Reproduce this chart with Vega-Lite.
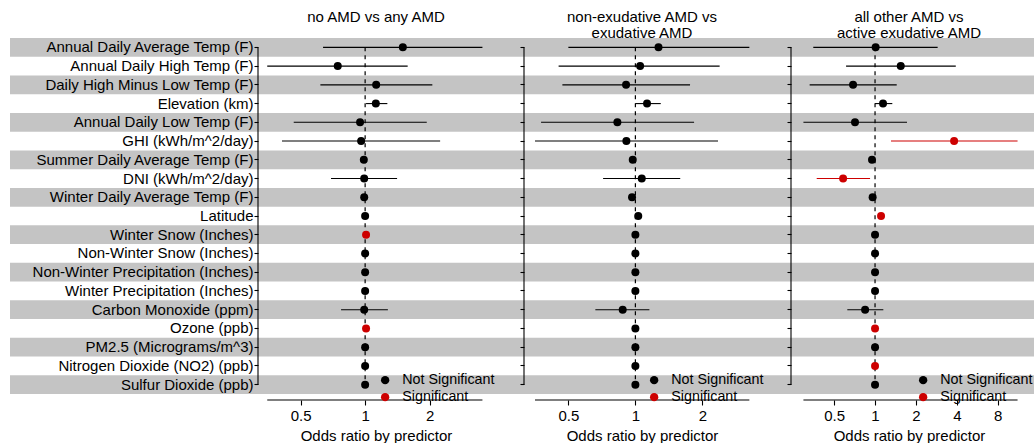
{
  "$schema": "https://vega.github.io/schema/vega-lite/v6.json",
  "padding": {"left": 10, "top": 10, "right": 0, "bottom": 0},
  "bounds": "flush",
  "spacing": 0,
  "datasets": {
    "or": [
      {"panel": "A", "predictor": "Annual Daily Average Temp (F)", "est": 1.50, "lo": 0.636, "hi": 3.53, "sig": "Not Significant"},
      {"panel": "A", "predictor": "Annual Daily High Temp (F)", "est": 0.745, "lo": 0.349, "hi": 1.58, "sig": "Not Significant"},
      {"panel": "A", "predictor": "Daily High Minus Low Temp (F)", "est": 1.126, "lo": 0.618, "hi": 2.06, "sig": "Not Significant"},
      {"panel": "A", "predictor": "Elevation (km)", "est": 1.122, "lo": 1.01, "hi": 1.27, "sig": "Not Significant"},
      {"panel": "A", "predictor": "Annual Daily Low Temp (F)", "est": 0.947, "lo": 0.464, "hi": 1.94, "sig": "Not Significant"},
      {"panel": "A", "predictor": "GHI (kWh/m^2/day)", "est": 0.958, "lo": 0.409, "hi": 2.24, "sig": "Not Significant"},
      {"panel": "A", "predictor": "Summer Daily Average Temp (F)", "est": 0.986, "lo": 0.965, "hi": 1.005, "sig": "Not Significant"},
      {"panel": "A", "predictor": "DNI (kWh/m^2/day)", "est": 0.99, "lo": 0.693, "hi": 1.41, "sig": "Not Significant"},
      {"panel": "A", "predictor": "Winter Daily Average Temp (F)", "est": 0.99, "lo": 0.975, "hi": 1.005, "sig": "Not Significant"},
      {"panel": "A", "predictor": "Latitude", "est": 1.0, "lo": 0.99, "hi": 1.01, "sig": "Not Significant"},
      {"panel": "A", "predictor": "Winter Snow (Inches)", "est": 1.01, "lo": 1.003, "hi": 1.017, "sig": "Significant"},
      {"panel": "A", "predictor": "Non-Winter Snow (Inches)", "est": 1.0, "lo": 0.995, "hi": 1.005, "sig": "Not Significant"},
      {"panel": "A", "predictor": "Non-Winter Precipitation (Inches)", "est": 1.0, "lo": 0.995, "hi": 1.005, "sig": "Not Significant"},
      {"panel": "A", "predictor": "Winter Precipitation (Inches)", "est": 1.0, "lo": 0.995, "hi": 1.005, "sig": "Not Significant"},
      {"panel": "A", "predictor": "Carbon Monoxide (ppm)", "est": 0.99, "lo": 0.772, "hi": 1.277, "sig": "Not Significant"},
      {"panel": "A", "predictor": "Ozone (ppb)", "est": 1.01, "lo": 1.004, "hi": 1.016, "sig": "Significant"},
      {"panel": "A", "predictor": "PM2.5 (Micrograms/m^3)", "est": 1.0, "lo": 0.995, "hi": 1.005, "sig": "Not Significant"},
      {"panel": "A", "predictor": "Nitrogen Dioxide (NO2) (ppb)", "est": 1.0, "lo": 0.995, "hi": 1.005, "sig": "Not Significant"},
      {"panel": "A", "predictor": "Sulfur Dioxide (ppb)", "est": 1.0, "lo": 0.995, "hi": 1.005, "sig": "Not Significant"},

      {"panel": "B", "predictor": "Annual Daily Average Temp (F)", "est": 1.27, "lo": 0.50, "hi": 3.25, "sig": "Not Significant"},
      {"panel": "B", "predictor": "Annual Daily High Temp (F)", "est": 1.05, "lo": 0.452, "hi": 2.39, "sig": "Not Significant"},
      {"panel": "B", "predictor": "Daily High Minus Low Temp (F)", "est": 0.908, "lo": 0.47, "hi": 1.76, "sig": "Not Significant"},
      {"panel": "B", "predictor": "Elevation (km)", "est": 1.128, "lo": 1.0, "hi": 1.30, "sig": "Not Significant"},
      {"panel": "B", "predictor": "Annual Daily Low Temp (F)", "est": 0.83, "lo": 0.377, "hi": 1.835, "sig": "Not Significant"},
      {"panel": "B", "predictor": "GHI (kWh/m^2/day)", "est": 0.911, "lo": 0.354, "hi": 2.35, "sig": "Not Significant"},
      {"panel": "B", "predictor": "Summer Daily Average Temp (F)", "est": 0.973, "lo": 0.955, "hi": 0.99, "sig": "Not Significant"},
      {"panel": "B", "predictor": "DNI (kWh/m^2/day)", "est": 1.068, "lo": 0.716, "hi": 1.59, "sig": "Not Significant"},
      {"panel": "B", "predictor": "Winter Daily Average Temp (F)", "est": 0.966, "lo": 0.95, "hi": 0.985, "sig": "Not Significant"},
      {"panel": "B", "predictor": "Latitude", "est": 1.03, "lo": 1.01, "hi": 1.05, "sig": "Not Significant"},
      {"panel": "B", "predictor": "Winter Snow (Inches)", "est": 1.0, "lo": 0.995, "hi": 1.005, "sig": "Not Significant"},
      {"panel": "B", "predictor": "Non-Winter Snow (Inches)", "est": 1.0, "lo": 0.995, "hi": 1.005, "sig": "Not Significant"},
      {"panel": "B", "predictor": "Non-Winter Precipitation (Inches)", "est": 1.0, "lo": 0.995, "hi": 1.005, "sig": "Not Significant"},
      {"panel": "B", "predictor": "Winter Precipitation (Inches)", "est": 1.0, "lo": 0.995, "hi": 1.005, "sig": "Not Significant"},
      {"panel": "B", "predictor": "Carbon Monoxide (ppm)", "est": 0.877, "lo": 0.661, "hi": 1.156, "sig": "Not Significant"},
      {"panel": "B", "predictor": "Ozone (ppb)", "est": 1.0, "lo": 0.995, "hi": 1.005, "sig": "Not Significant"},
      {"panel": "B", "predictor": "PM2.5 (Micrograms/m^3)", "est": 1.0, "lo": 0.995, "hi": 1.005, "sig": "Not Significant"},
      {"panel": "B", "predictor": "Nitrogen Dioxide (NO2) (ppb)", "est": 1.0, "lo": 0.995, "hi": 1.005, "sig": "Not Significant"},
      {"panel": "B", "predictor": "Sulfur Dioxide (ppb)", "est": 1.0, "lo": 0.995, "hi": 1.005, "sig": "Not Significant"},

      {"panel": "C", "predictor": "Annual Daily Average Temp (F)", "est": 1.01, "lo": 0.351, "hi": 2.89, "sig": "Not Significant"},
      {"panel": "C", "predictor": "Annual Daily High Temp (F)", "est": 1.546, "lo": 0.612, "hi": 3.93, "sig": "Not Significant"},
      {"panel": "C", "predictor": "Daily High Minus Low Temp (F)", "est": 0.689, "lo": 0.330, "hi": 1.444, "sig": "Not Significant"},
      {"panel": "C", "predictor": "Elevation (km)", "est": 1.145, "lo": 1.0, "hi": 1.34, "sig": "Not Significant"},
      {"panel": "C", "predictor": "Annual Daily Low Temp (F)", "est": 0.712, "lo": 0.297, "hi": 1.72, "sig": "Not Significant"},
      {"panel": "C", "predictor": "GHI (kWh/m^2/day)", "est": 3.82, "lo": 1.31, "hi": 11.2, "sig": "Significant"},
      {"panel": "C", "predictor": "Summer Daily Average Temp (F)", "est": 0.95, "lo": 0.925, "hi": 0.975, "sig": "Not Significant"},
      {"panel": "C", "predictor": "DNI (kWh/m^2/day)", "est": 0.582, "lo": 0.372, "hi": 0.919, "sig": "Significant"},
      {"panel": "C", "predictor": "Winter Daily Average Temp (F)", "est": 0.96, "lo": 0.935, "hi": 0.985, "sig": "Not Significant"},
      {"panel": "C", "predictor": "Latitude", "est": 1.107, "lo": 1.07, "hi": 1.145, "sig": "Significant"},
      {"panel": "C", "predictor": "Winter Snow (Inches)", "est": 1.0, "lo": 0.99, "hi": 1.01, "sig": "Not Significant"},
      {"panel": "C", "predictor": "Non-Winter Snow (Inches)", "est": 1.0, "lo": 0.99, "hi": 1.01, "sig": "Not Significant"},
      {"panel": "C", "predictor": "Non-Winter Precipitation (Inches)", "est": 1.0, "lo": 0.99, "hi": 1.01, "sig": "Not Significant"},
      {"panel": "C", "predictor": "Winter Precipitation (Inches)", "est": 1.0, "lo": 0.99, "hi": 1.01, "sig": "Not Significant"},
      {"panel": "C", "predictor": "Carbon Monoxide (ppm)", "est": 0.845, "lo": 0.625, "hi": 1.151, "sig": "Not Significant"},
      {"panel": "C", "predictor": "Ozone (ppb)", "est": 1.0, "lo": 0.99, "hi": 1.01, "sig": "Significant"},
      {"panel": "C", "predictor": "PM2.5 (Micrograms/m^3)", "est": 1.0, "lo": 0.99, "hi": 1.01, "sig": "Not Significant"},
      {"panel": "C", "predictor": "Nitrogen Dioxide (NO2) (ppb)", "est": 1.0, "lo": 0.99, "hi": 1.01, "sig": "Significant"},
      {"panel": "C", "predictor": "Sulfur Dioxide (ppb)", "est": 1.0, "lo": 0.99, "hi": 1.01, "sig": "Not Significant"}
    ],
    "bands": [
      {"predictor": "Annual Daily Average Temp (F)"},
      {"predictor": "Daily High Minus Low Temp (F)"},
      {"predictor": "Annual Daily Low Temp (F)"},
      {"predictor": "Summer Daily Average Temp (F)"},
      {"predictor": "Winter Daily Average Temp (F)"},
      {"predictor": "Winter Snow (Inches)"},
      {"predictor": "Non-Winter Precipitation (Inches)"},
      {"predictor": "Carbon Monoxide (ppm)"},
      {"predictor": "PM2.5 (Micrograms/m^3)"},
      {"predictor": "Sulfur Dioxide (ppb)"}
    ],
    "one": [{"k": 1}]
  },
  "hconcat": [
    {
      "width": 248, "height": 362,
      "data": {"name": "bands"},
      "mark": {"type": "rect", "color": "#c4c4c4"},
      "encoding": {
        "y": {"field": "predictor", "type": "nominal", "axis": null,
          "scale": {"type": "band", "paddingInner": 0, "paddingOuter": 0.16, "align": 0, "domain": ["Annual Daily Average Temp (F)", "Annual Daily High Temp (F)", "Daily High Minus Low Temp (F)", "Elevation (km)", "Annual Daily Low Temp (F)", "GHI (kWh/m^2/day)", "Summer Daily Average Temp (F)", "DNI (kWh/m^2/day)", "Winter Daily Average Temp (F)", "Latitude", "Winter Snow (Inches)", "Non-Winter Snow (Inches)", "Non-Winter Precipitation (Inches)", "Winter Precipitation (Inches)", "Carbon Monoxide (ppm)", "Ozone (ppb)", "PM2.5 (Micrograms/m^3)", "Nitrogen Dioxide (NO2) (ppb)", "Sulfur Dioxide (ppb)"]}}
      }
    },
    {
      "width": 266, "height": 362,
      "title": {"text": ["no AMD vs any AMD", " "], "dx": -15},
      "layer": [
        {"data": {"name": "bands"}, "mark": {"type": "rect", "color": "#c4c4c4"},
         "encoding": {"y": {"field": "predictor", "type": "nominal", "title": null,
           "axis": {"labels": true, "ticks": true, "domain": false, "tickSize": 4, "labelPadding": 1, "labelLimit": 400},
           "scale": {"type": "band", "paddingInner": 0, "paddingOuter": 0.16, "align": 0, "domain": ["Annual Daily Average Temp (F)", "Annual Daily High Temp (F)", "Daily High Minus Low Temp (F)", "Elevation (km)", "Annual Daily Low Temp (F)", "GHI (kWh/m^2/day)", "Summer Daily Average Temp (F)", "DNI (kWh/m^2/day)", "Winter Daily Average Temp (F)", "Latitude", "Winter Snow (Inches)", "Non-Winter Snow (Inches)", "Non-Winter Precipitation (Inches)", "Winter Precipitation (Inches)", "Carbon Monoxide (ppm)", "Ozone (ppb)", "PM2.5 (Micrograms/m^3)", "Nitrogen Dioxide (NO2) (ppb)", "Sulfur Dioxide (ppb)"]}}}},
        {"data": {"name": "one"}, "mark": {"type": "rule", "color": "black", "strokeWidth": 1.1},
         "encoding": {"x": {"value": 0}, "y": {"datum": "Annual Daily Average Temp (F)", "type": "nominal"}, "y2": {"datum": "Sulfur Dioxide (ppb)"}}},
        {"data": {"name": "one"}, "mark": {"type": "rule", "color": "black", "strokeWidth": 1.2, "strokeDash": [4, 4]},
         "encoding": {"x": {"datum": 1, "type": "quantitative", "scale": {"type": "log", "domain": [0.316, 5.52], "nice": false}, "title": "Odds ratio by predictor", "axis": {"values": [0.5, 1, 2], "domain": false, "format": "~g", "titleX": 118, "titleAlign": "center"}},
           "y": {"datum": "Annual Daily Average Temp (F)", "type": "nominal"}, "y2": {"datum": "Sulfur Dioxide (ppb)"}}},
        {"data": {"name": "or"}, "transform": [{"filter": "datum.panel == 'A'"}, {"aggregate": [{"op": "min", "field": "lo", "as": "xmin"}, {"op": "max", "field": "hi", "as": "xmax"}]}],
         "mark": {"type": "rule", "color": "black", "strokeWidth": 1.1},
         "encoding": {"x": {"field": "xmin", "type": "quantitative", "title": "Odds ratio by predictor", "axis": {"values": [0.5, 1, 2], "domain": false, "format": "~g", "titleX": 118, "titleAlign": "center"}}, "x2": {"field": "xmax"}, "y": {"value": "height"}}},
        {"data": {"name": "or"}, "transform": [{"filter": "datum.panel == 'A' && datum.sig == 'Not Significant'"}],
         "mark": {"type": "rule", "strokeWidth": 1.1, "color": "black"},
         "encoding": {"x": {"field": "lo", "type": "quantitative", "title": "Odds ratio by predictor", "axis": {"values": [0.5, 1, 2], "domain": false, "format": "~g", "titleX": 118, "titleAlign": "center"}}, "x2": {"field": "hi"},
           "y": {"field": "predictor", "type": "nominal"}}},
        {"data": {"name": "or"}, "transform": [{"filter": "datum.panel == 'A' && datum.sig == 'Significant'"}],
         "mark": {"type": "rule", "strokeWidth": 1.1, "color": "#cd0000"},
         "encoding": {"x": {"field": "lo", "type": "quantitative", "title": "Odds ratio by predictor", "axis": {"values": [0.5, 1, 2], "domain": false, "format": "~g", "titleX": 118, "titleAlign": "center"}}, "x2": {"field": "hi"},
           "y": {"field": "predictor", "type": "nominal"}}},
        {"data": {"name": "or"}, "transform": [{"filter": "datum.panel == 'A'"}],
         "mark": {"type": "circle", "size": 64, "opacity": 1},
         "encoding": {"x": {"field": "est", "type": "quantitative", "title": "Odds ratio by predictor", "axis": {"values": [0.5, 1, 2], "domain": false, "format": "~g", "titleX": 118, "titleAlign": "center"}},
           "y": {"field": "predictor", "type": "nominal"},
           "color": {"field": "sig", "type": "nominal", "scale": {"domain": ["Not Significant", "Significant"], "range": ["black", "#cd0000"]},
             "legend": {"title": null, "orient": "none", "legendX": 120, "legendY": 335}}}}
      ]
    },
    {
      "width": 267, "height": 362,
      "title": {"text": ["non-exudative AMD vs", "exudative AMD"], "dx": -15.5},
      "layer": [
        {"data": {"name": "bands"}, "mark": {"type": "rect", "color": "#c4c4c4"},
         "encoding": {"y": {"field": "predictor", "type": "nominal", "title": null,
           "axis": {"labels": false, "ticks": true, "domain": false, "tickSize": 4},
           "scale": {"type": "band", "paddingInner": 0, "paddingOuter": 0.16, "align": 0, "domain": ["Annual Daily Average Temp (F)", "Annual Daily High Temp (F)", "Daily High Minus Low Temp (F)", "Elevation (km)", "Annual Daily Low Temp (F)", "GHI (kWh/m^2/day)", "Summer Daily Average Temp (F)", "DNI (kWh/m^2/day)", "Winter Daily Average Temp (F)", "Latitude", "Winter Snow (Inches)", "Non-Winter Snow (Inches)", "Non-Winter Precipitation (Inches)", "Winter Precipitation (Inches)", "Carbon Monoxide (ppm)", "Ozone (ppb)", "PM2.5 (Micrograms/m^3)", "Nitrogen Dioxide (NO2) (ppb)", "Sulfur Dioxide (ppb)"]}}}},
        {"data": {"name": "one"}, "mark": {"type": "rule", "color": "black", "strokeWidth": 1.1},
         "encoding": {"x": {"value": 0}, "y": {"datum": "Annual Daily Average Temp (F)", "type": "nominal"}, "y2": {"datum": "Sulfur Dioxide (ppb)"}}},
        {"data": {"name": "one"}, "mark": {"type": "rule", "color": "black", "strokeWidth": 1.2, "strokeDash": [4, 4]},
         "encoding": {"x": {"datum": 1, "type": "quantitative", "scale": {"type": "log", "domain": [0.316, 5.0], "nice": false}, "title": "Odds ratio by predictor", "axis": {"values": [0.5, 1, 2], "domain": false, "format": "~g", "titleX": 118, "titleAlign": "center"}},
           "y": {"datum": "Annual Daily Average Temp (F)", "type": "nominal"}, "y2": {"datum": "Sulfur Dioxide (ppb)"}}},
        {"data": {"name": "or"}, "transform": [{"filter": "datum.panel == 'B'"}, {"aggregate": [{"op": "min", "field": "lo", "as": "xmin"}, {"op": "max", "field": "hi", "as": "xmax"}]}],
         "mark": {"type": "rule", "color": "black", "strokeWidth": 1.1},
         "encoding": {"x": {"field": "xmin", "type": "quantitative", "title": "Odds ratio by predictor", "axis": {"values": [0.5, 1, 2], "domain": false, "format": "~g", "titleX": 118, "titleAlign": "center"}}, "x2": {"field": "xmax"}, "y": {"value": "height"}}},
        {"data": {"name": "or"}, "transform": [{"filter": "datum.panel == 'B'"}],
         "mark": {"type": "rule", "strokeWidth": 1.1, "color": "black"},
         "encoding": {"x": {"field": "lo", "type": "quantitative", "title": "Odds ratio by predictor", "axis": {"values": [0.5, 1, 2], "domain": false, "format": "~g", "titleX": 118, "titleAlign": "center"}}, "x2": {"field": "hi"},
           "y": {"field": "predictor", "type": "nominal"}}},
        {"data": {"name": "or"}, "transform": [{"filter": "datum.panel == 'B'"}],
         "mark": {"type": "circle", "size": 64, "opacity": 1},
         "encoding": {"x": {"field": "est", "type": "quantitative", "title": "Odds ratio by predictor", "axis": {"values": [0.5, 1, 2], "domain": false, "format": "~g", "titleX": 118, "titleAlign": "center"}},
           "y": {"field": "predictor", "type": "nominal"},
           "color": {"field": "sig", "type": "nominal", "scale": {"domain": ["Not Significant", "Significant"], "range": ["black", "#cd0000"]},
             "legend": {"title": null, "orient": "none", "legendX": 123, "legendY": 335}}}}
      ]
    },
    {
      "width": 243, "height": 362,
      "title": {"text": ["all other AMD vs", "active exudative AMD"], "dx": -3.5},
      "layer": [
        {"data": {"name": "bands"}, "mark": {"type": "rect", "color": "#c4c4c4"},
         "encoding": {"y": {"field": "predictor", "type": "nominal", "title": null,
           "axis": {"labels": false, "ticks": true, "domain": false, "tickSize": 4},
           "scale": {"type": "band", "paddingInner": 0, "paddingOuter": 0.16, "align": 0, "domain": ["Annual Daily Average Temp (F)", "Annual Daily High Temp (F)", "Daily High Minus Low Temp (F)", "Elevation (km)", "Annual Daily Low Temp (F)", "GHI (kWh/m^2/day)", "Summer Daily Average Temp (F)", "DNI (kWh/m^2/day)", "Winter Daily Average Temp (F)", "Latitude", "Winter Snow (Inches)", "Non-Winter Snow (Inches)", "Non-Winter Precipitation (Inches)", "Winter Precipitation (Inches)", "Carbon Monoxide (ppm)", "Ozone (ppb)", "PM2.5 (Micrograms/m^3)", "Nitrogen Dioxide (NO2) (ppb)", "Sulfur Dioxide (ppb)"]}}}},
        {"data": {"name": "one"}, "mark": {"type": "rule", "color": "black", "strokeWidth": 1.1},
         "encoding": {"x": {"value": 0}, "y": {"datum": "Annual Daily Average Temp (F)", "type": "nominal"}, "y2": {"datum": "Sulfur Dioxide (ppb)"}}},
        {"data": {"name": "one"}, "mark": {"type": "rule", "color": "black", "strokeWidth": 1.2, "strokeDash": [4, 4]},
         "encoding": {"x": {"datum": 1, "type": "quantitative", "scale": {"type": "log", "domain": [0.2406, 14.8], "nice": false}, "title": "Odds ratio by predictor", "axis": {"values": [0.5, 1, 2, 4, 8], "domain": false, "format": "~g", "titleX": 118, "titleAlign": "center"}},
           "y": {"datum": "Annual Daily Average Temp (F)", "type": "nominal"}, "y2": {"datum": "Sulfur Dioxide (ppb)"}}},
        {"data": {"name": "or"}, "transform": [{"filter": "datum.panel == 'C'"}, {"aggregate": [{"op": "min", "field": "lo", "as": "xmin"}, {"op": "max", "field": "hi", "as": "xmax"}]}],
         "mark": {"type": "rule", "color": "black", "strokeWidth": 1.1},
         "encoding": {"x": {"field": "xmin", "type": "quantitative", "title": "Odds ratio by predictor", "axis": {"values": [0.5, 1, 2, 4, 8], "domain": false, "format": "~g", "titleX": 118, "titleAlign": "center"}}, "x2": {"field": "xmax"}, "y": {"value": "height"}}},
        {"data": {"name": "or"}, "transform": [{"filter": "datum.panel == 'C' && datum.sig == 'Not Significant'"}],
         "mark": {"type": "rule", "strokeWidth": 1.1, "color": "black"},
         "encoding": {"x": {"field": "lo", "type": "quantitative", "title": "Odds ratio by predictor", "axis": {"values": [0.5, 1, 2, 4, 8], "domain": false, "format": "~g", "titleX": 118, "titleAlign": "center"}}, "x2": {"field": "hi"},
           "y": {"field": "predictor", "type": "nominal"}}},
        {"data": {"name": "or"}, "transform": [{"filter": "datum.panel == 'C' && datum.sig == 'Significant'"}],
         "mark": {"type": "rule", "strokeWidth": 1.1, "color": "#cd0000"},
         "encoding": {"x": {"field": "lo", "type": "quantitative", "title": "Odds ratio by predictor", "axis": {"values": [0.5, 1, 2, 4, 8], "domain": false, "format": "~g", "titleX": 118, "titleAlign": "center"}}, "x2": {"field": "hi"},
           "y": {"field": "predictor", "type": "nominal"}}},
        {"data": {"name": "or"}, "transform": [{"filter": "datum.panel == 'C'"}],
         "mark": {"type": "circle", "size": 64, "opacity": 1},
         "encoding": {"x": {"field": "est", "type": "quantitative", "title": "Odds ratio by predictor", "axis": {"values": [0.5, 1, 2, 4, 8], "domain": false, "format": "~g", "titleX": 118, "titleAlign": "center"}},
           "y": {"field": "predictor", "type": "nominal"},
           "color": {"field": "sig", "type": "nominal", "scale": {"domain": ["Not Significant", "Significant"], "range": ["black", "#cd0000"]},
             "legend": {"title": null, "orient": "none", "legendX": 125, "legendY": 335}}}}
      ]
    }
  ],
  "resolve": {"scale": {"x": "independent", "y": "independent", "color": "independent"}, "legend": {"color": "independent"}, "axis": {"x": "independent", "y": "independent"}},
  "config": {
    "view": {"stroke": null},
    "font": "Liberation Sans",
    "title": {"fontSize": 15, "fontWeight": "normal", "color": "black", "anchor": "middle", "offset": -3, "lineHeight": 16},
    "axis": {"labelFontSize": 15, "labelColor": "black", "titleFontSize": 15, "titleFontWeight": "normal", "titleColor": "black", "tickColor": "black", "tickWidth": 1.1, "tickSize": 5, "labelPadding": 3, "titlePadding": 5, "grid": false},
    "legend": {"symbolType": "circle", "symbolSize": 70, "symbolStrokeWidth": 0, "labelFontSize": 14.3, "labelColor": "black", "labelOffset": 10, "rowPadding": 2, "labelLimit": 300}
  }
}
